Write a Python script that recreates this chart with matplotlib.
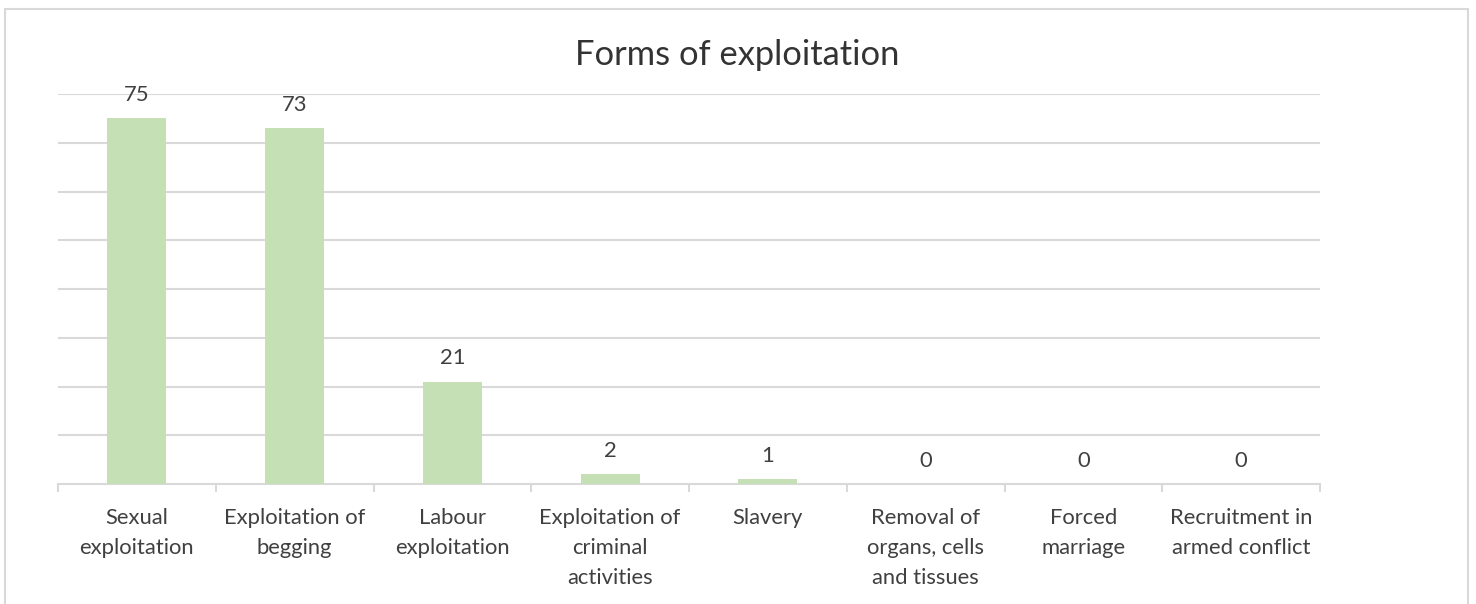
import matplotlib.pyplot as plt
from matplotlib.patches import Rectangle

categories = ["Sexual\nexploitation", "Exploitation of\nbegging", "Labour\nexploitation",
              "Exploitation of\ncriminal\nactivities", "Slavery", "Removal of\norgans, cells\nand tissues",
              "Forced\nmarriage", "Recruitment in\narmed conflict"]
values = [75, 73, 21, 2, 1, 0, 0, 0]

plt.rcParams['font.family'] = ['Lato', 'DejaVu Sans']
text_col = '#404040'
grid_col = '#D9D9D9'
bar_col = '#C5E0B4'

fig = plt.figure(figsize=(14.76, 6.04), dpi=100)
# outer chart frame
fig.patches.append(Rectangle((5 / 1476, -0.05), 1463 / 1476, 1 - 9 / 604 + 0.05,
                             transform=fig.transFigure, fill=False, edgecolor='#D9D9D9', linewidth=1.5))

ax = fig.add_axes([58 / 1476, 120 / 604, 1262 / 1476, 390 / 604])
x = range(len(values))
bars = ax.bar(x, values, width=0.375, color=bar_col, zorder=3)

ax.set_xlim(-0.5, len(values) - 0.5)
ax.set_ylim(0, 80)
ax.set_yticks(range(10, 81, 10))
ax.yaxis.grid(True, color=grid_col, linewidth=1.5, zorder=0)
ax.tick_params(axis='y', left=False, labelleft=False)
for s in ['top', 'right', 'left']:
    ax.spines[s].set_visible(False)
ax.spines['bottom'].set_color(grid_col)
ax.spines['bottom'].set_linewidth(1.5)

# ticks at category boundaries, labels at centres
ax.set_xticks([i - 0.5 for i in range(len(values) + 1)])
ax.set_xticklabels([])
ax.tick_params(axis='x', which='major', length=6, width=1.5, color=grid_col)
ax.set_xticks(list(x), minor=True)
ax.set_xticklabels(categories, minor=True, fontsize=15.8, color=text_col, linespacing=1.62)
ax.tick_params(axis='x', which='minor', length=0, pad=17.5)

for b, v in zip(bars, values):
    ax.annotate(str(v), (b.get_x() + b.get_width() / 2, v), xytext=(0, 9.5), textcoords='offset points',
                ha='center', va='bottom', fontsize=15.8, color=text_col)

fig.text(737 / 1476, 1 - 55 / 604, "Forms of exploitation", ha='center', va='center', fontsize=24.8, color='#333333')

fig.savefig('out.png', dpi=100)
